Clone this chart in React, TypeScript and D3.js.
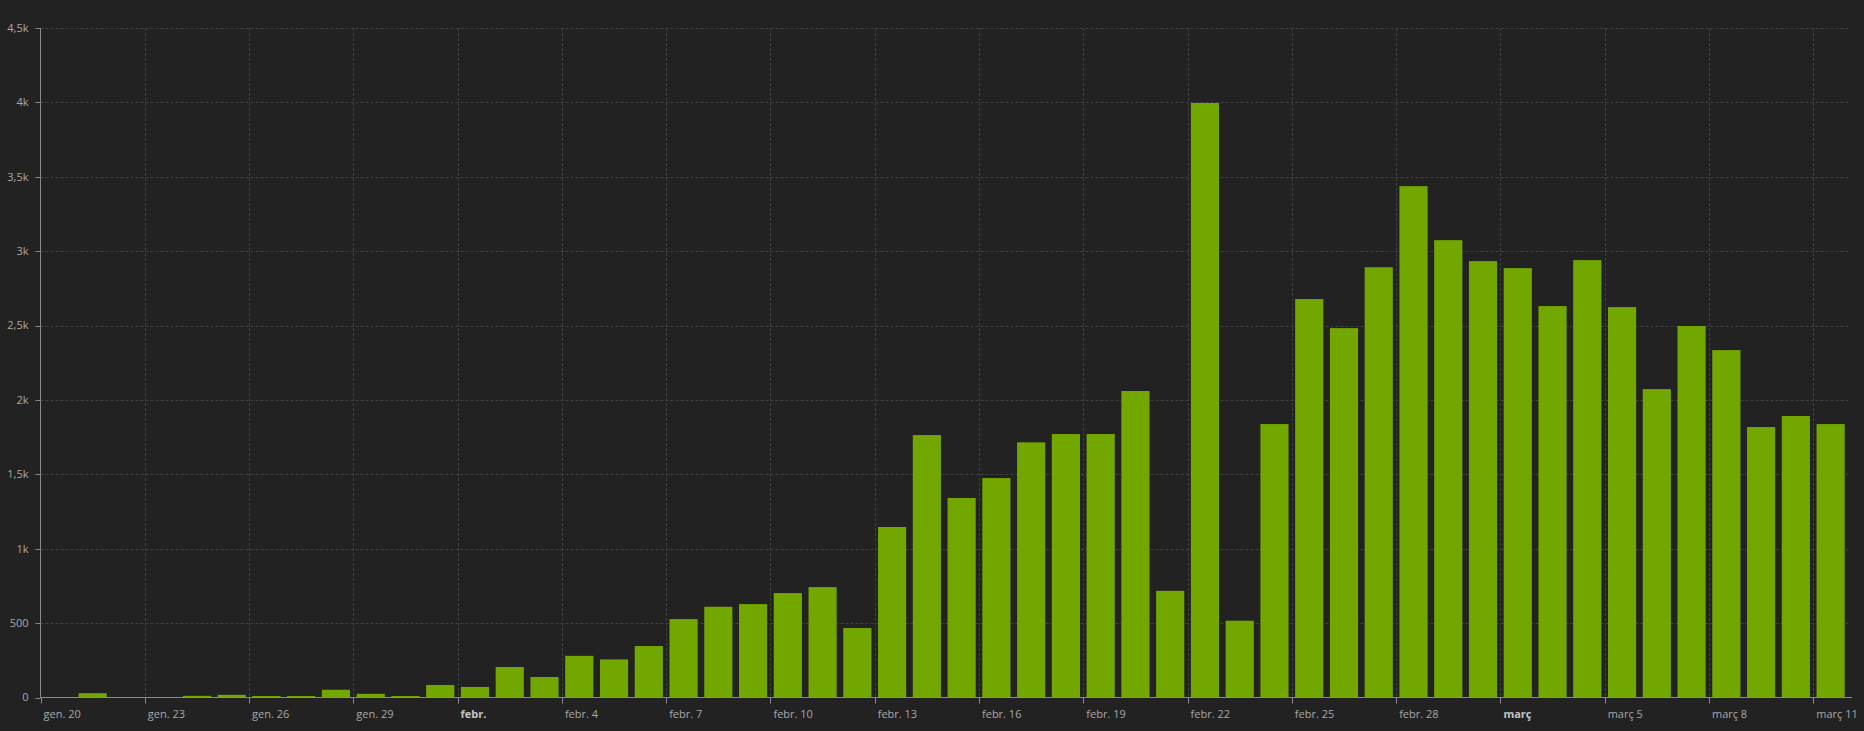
import { scaleLinear, scaleUtc, utcDay } from "d3";

// daily values, 20 Jan 2020 .. 11 Mar 2020
const startDay = new Date(Date.UTC(2020, 0, 20));
const endDay = new Date(Date.UTC(2020, 2, 12));
const values = [
  0, 29, 2, 2, 11, 18, 10, 10, 52, 25, 10, 84,
  71, 205, 138, 280, 256, 346, 527, 610, 628, 702, 742, 467, 1146, 1764, 1341, 1475, 1715,
  1771, 1771, 2060, 717, 3996, 516, 1838, 2678, 2483, 2892, 3437, 3074,
  2933, 2886, 2631, 2940, 2624, 2073, 2497, 2335, 1818, 1892, 1838,
];
const days = utcDay.range(startDay, endDay);

const xTickLabels = [
  "gen. 20", "gen. 23", "gen. 26", "gen. 29", "febr.", "febr. 4", "febr. 7", "febr. 10", "febr. 13",
  "febr. 16", "febr. 19", "febr. 22", "febr. 25", "febr. 28", "març", "març 5", "març 8", "març 11",
];
const xTickDates = utcDay.range(startDay, endDay, 3);
const boldTicks = ["febr.", "març"];

const yTicks = [0, 500, 1000, 1500, 2000, 2500, 3000, 3500, 4000, 4500];
const yTickLabels = ["0", "500", "1k", "1,5k", "2k", "2,5k", "3k", "3,5k", "4k", "4,5k"];

const W = 1864,
  H = 731;
const left = 40.5,
  right = 1848,
  top = 28,
  bottom = 697.5;
const FONT = "'Open Sans', 'DejaVu Sans', sans-serif";

export default function App() {
  const x = scaleUtc().domain([startDay, endDay]).range([left, right]);
  const y = scaleLinear().domain([0, 4500]).range([bottom, top]);
  const pad = 3.3;

  return (
    <svg
      width={W}
      height={H}
      style={{ position: "absolute", left: 0, top: 0, background: "#222222", display: "block" }}
    >
      <rect x={0} y={0} width={W} height={H} fill="#222222" />
      {/* grid */}
      {yTicks.slice(1).map((t) => (
        <line
          key={"gy" + t}
          x1={left}
          x2={right}
          y1={Math.round(y(t)) + 0.5}
          y2={Math.round(y(t)) + 0.5}
          stroke="#404040"
          strokeDasharray="3,2"
        />
      ))}
      {xTickDates.slice(1).map((d, i) => (
        <line
          key={"gx" + i}
          x1={Math.round(x(d)) + 0.5}
          x2={Math.round(x(d)) + 0.5}
          y1={top}
          y2={bottom}
          stroke="#404040"
          strokeDasharray="3,2"
        />
      ))}
      {/* bars */}
      {days.map((d, i) => (
        <rect
          key={"b" + i}
          x={x(d) + pad}
          width={x(utcDay.offset(d, 1)) - x(d) - 2 * pad}
          y={y(values[i])}
          height={bottom - y(values[i])}
          fill="#72a700"
        />
      ))}
      {/* y axis */}
      <line x1={left} x2={left} y1={top} y2={bottom} stroke="#8a8a8a" />
      {yTicks.map((t, i) => (
        <g key={"yt" + t}>
          <line x1={left - 5} x2={left} y1={Math.round(y(t)) + 0.5} y2={Math.round(y(t)) + 0.5} stroke="#8a8a8a" />
          <text
            x={left - 12}
            y={y(t)}
            dy="0.35em"
            textAnchor="end"
            fill="#a8a8a8"
            fontSize={11}
            fontFamily={FONT}
          >
            {yTickLabels[i]}
          </text>
        </g>
      ))}
      {/* x axis */}
      <line x1={left} x2={right + 4} y1={bottom} y2={bottom} stroke="#8a8a8a" />
      {xTickDates.map((d, i) => (
        <g key={"xt" + i}>
          <line
            x1={Math.round(x(d)) + 0.5}
            x2={Math.round(x(d)) + 0.5}
            y1={bottom}
            y2={bottom + 6}
            stroke="#8a8a8a"
          />
          <text
            x={x(d) + 3}
            y={bottom + 20}
            fill={boldTicks.includes(xTickLabels[i]) ? "#c4c4c4" : "#a8a8a8"}
            fontWeight={boldTicks.includes(xTickLabels[i]) ? "bold" : "normal"}
            fontSize={11}
            fontFamily={FONT}
          >
            {xTickLabels[i]}
          </text>
        </g>
      ))}
    </svg>
  );
}
